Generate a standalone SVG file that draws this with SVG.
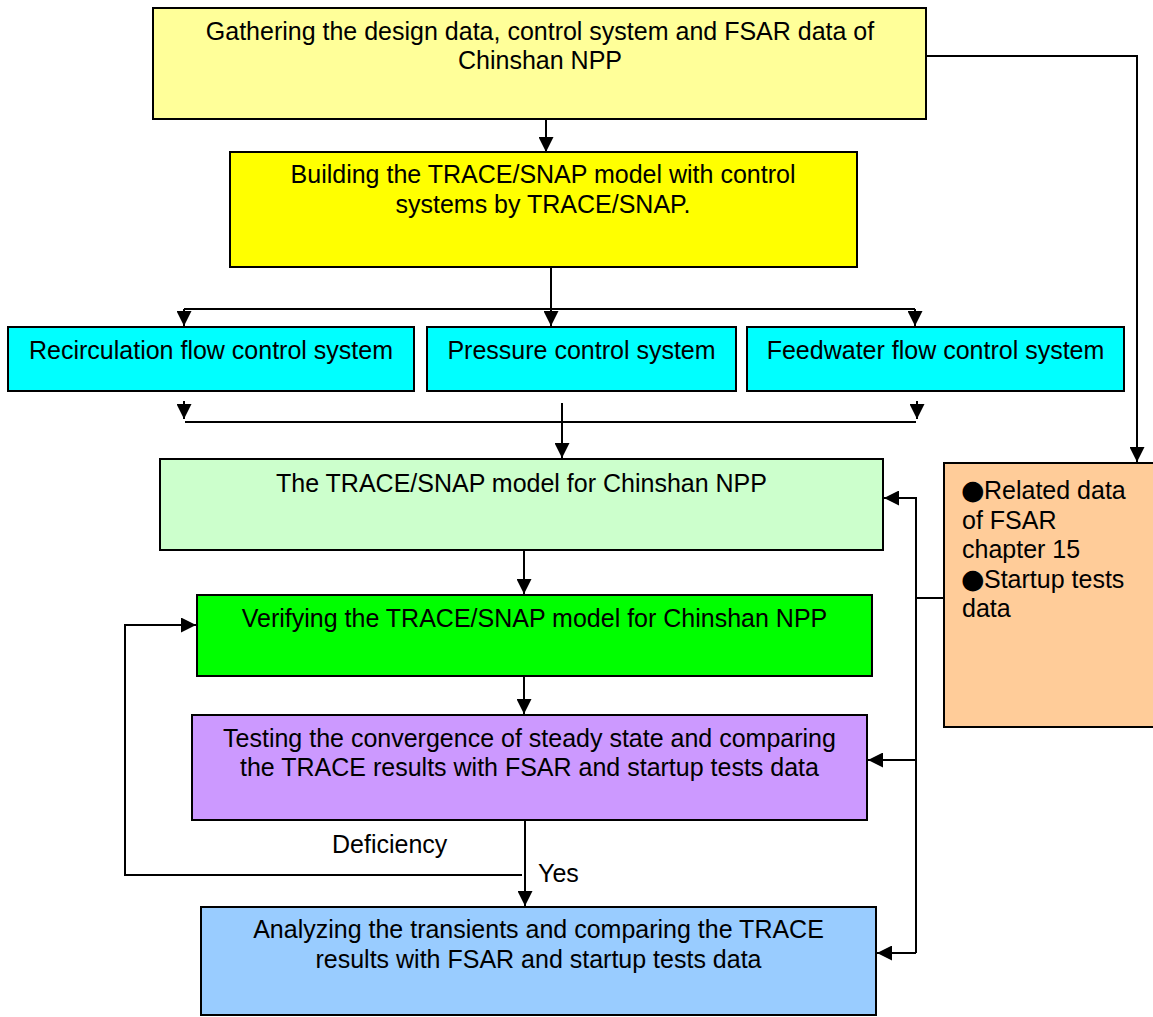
<svg xmlns="http://www.w3.org/2000/svg" width="1153" height="1017" viewBox="0 0 1153 1017">
<style>
.box{stroke:#000;stroke-width:2}
.t{font-family:"Liberation Sans",Arial,"DejaVu Sans",sans-serif;font-size:25px;fill:#000}
.c{text-anchor:middle}
.b{font-family:"DejaVu Sans",sans-serif;font-size:27px}
.ln{fill:none;stroke:#000;stroke-width:2}
</style>
<defs>
<marker id="ah" markerUnits="userSpaceOnUse" markerWidth="15" markerHeight="15" refX="15" refY="7.5" orient="auto">
<path d="M0,0 L15,7.5 L0,15 z" fill="#000"/>
</marker>
</defs>
<rect width="1153" height="1017" fill="#fff"/>
<g id="connectors">
<path class="ln" d="M546,119 V152" marker-end="url(#ah)"/>
<path class="ln" d="M926,56 H1137 V462" marker-end="url(#ah)"/>
<path class="ln" d="M551,268 V326" marker-end="url(#ah)"/>
<path class="ln" d="M184,309 H915"/>
<path class="ln" d="M184,309 V326" marker-end="url(#ah)"/>
<path class="ln" d="M915,309 V326" marker-end="url(#ah)"/>
<path class="ln" d="M184,401 V419" marker-end="url(#ah)"/>
<path class="ln" d="M917,401 V419" marker-end="url(#ah)"/>
<path class="ln" d="M185,422 H916"/>
<path class="ln" d="M562,403 V458" marker-end="url(#ah)"/>
<path class="ln" d="M524,551 V594" marker-end="url(#ah)"/>
<path class="ln" d="M524,677 V714" marker-end="url(#ah)"/>
<path class="ln" d="M525,821 V906" marker-end="url(#ah)"/>
<path class="ln" d="M522,875 H125 V625 H196" marker-end="url(#ah)"/>
<path class="ln" d="M944,598 H916"/>
<path class="ln" d="M916,953 V498 H884" marker-end="url(#ah)"/>
<path class="ln" d="M916,760 H868" marker-end="url(#ah)"/>
<path class="ln" d="M916,953 H877" marker-end="url(#ah)"/>
</g>
<g id="n1">
<rect class="box" x="153" y="8" width="773" height="111" fill="#FFFF99"/>
<text class="t c" x="540" y="40">Gathering the design data, control system and FSAR data of</text>
<text class="t c" x="540" y="69">Chinshan NPP</text>
</g>
<g id="n2">
<rect class="box" x="230" y="152" width="627" height="115" fill="#FFFF00"/>
<text class="t c" x="543" y="183">Building the TRACE/SNAP model with control</text>
<text class="t c" x="543" y="213">systems by TRACE/SNAP.</text>
</g>
<g id="n3">
<rect class="box" x="8" y="327" width="406" height="64" fill="#00FFFF"/>
<text class="t c" x="211" y="359">Recirculation flow control system</text>
</g>
<g id="n4">
<rect class="box" x="427" y="327" width="309" height="64" fill="#00FFFF"/>
<text class="t c" x="581.5" y="359">Pressure control system</text>
</g>
<g id="n5">
<rect class="box" x="747" y="327" width="377" height="64" fill="#00FFFF"/>
<text class="t c" x="935.5" y="359">Feedwater flow control system</text>
</g>
<g id="n6">
<rect class="box" x="160" y="459" width="723" height="91" fill="#CCFFCC"/>
<text class="t c" x="521.5" y="492">The TRACE/SNAP model for Chinshan NPP</text>
</g>
<g id="n7">
<rect class="box" x="197" y="595" width="675" height="81" fill="#00FF00"/>
<text class="t c" x="534.5" y="627">Verifying the TRACE/SNAP model for Chinshan NPP</text>
</g>
<g id="n8">
<rect class="box" x="192" y="715" width="675" height="105" fill="#CC99FF"/>
<text class="t c" x="529.5" y="747">Testing the convergence of steady state and comparing</text>
<text class="t c" x="529.5" y="776">the TRACE results with FSAR and startup tests data</text>
</g>
<g id="n9">
<rect class="box" x="201" y="907" width="675" height="108" fill="#99CCFF"/>
<text class="t c" x="538.5" y="938">Analyzing the transients and comparing the TRACE</text>
<text class="t c" x="538.5" y="968">results with FSAR and startup tests data</text>
</g>
<g id="n10">
<rect class="box" x="944" y="463" width="215" height="264" fill="#FFCC99"/>
<text class="t" x="961" y="499"><tspan class="b">●</tspan><tspan x="984">Related data</tspan></text>
<text class="t" x="962" y="529">of FSAR</text>
<text class="t" x="962" y="558">chapter 15</text>
<text class="t" x="961" y="588"><tspan class="b">●</tspan><tspan x="984">Startup tests</tspan></text>
<text class="t" x="962" y="617">data</text>
</g>
<g id="labels">
<text class="t" x="332" y="853">Deficiency</text>
<text class="t" x="538" y="882">Yes</text>
</g>
</svg>
